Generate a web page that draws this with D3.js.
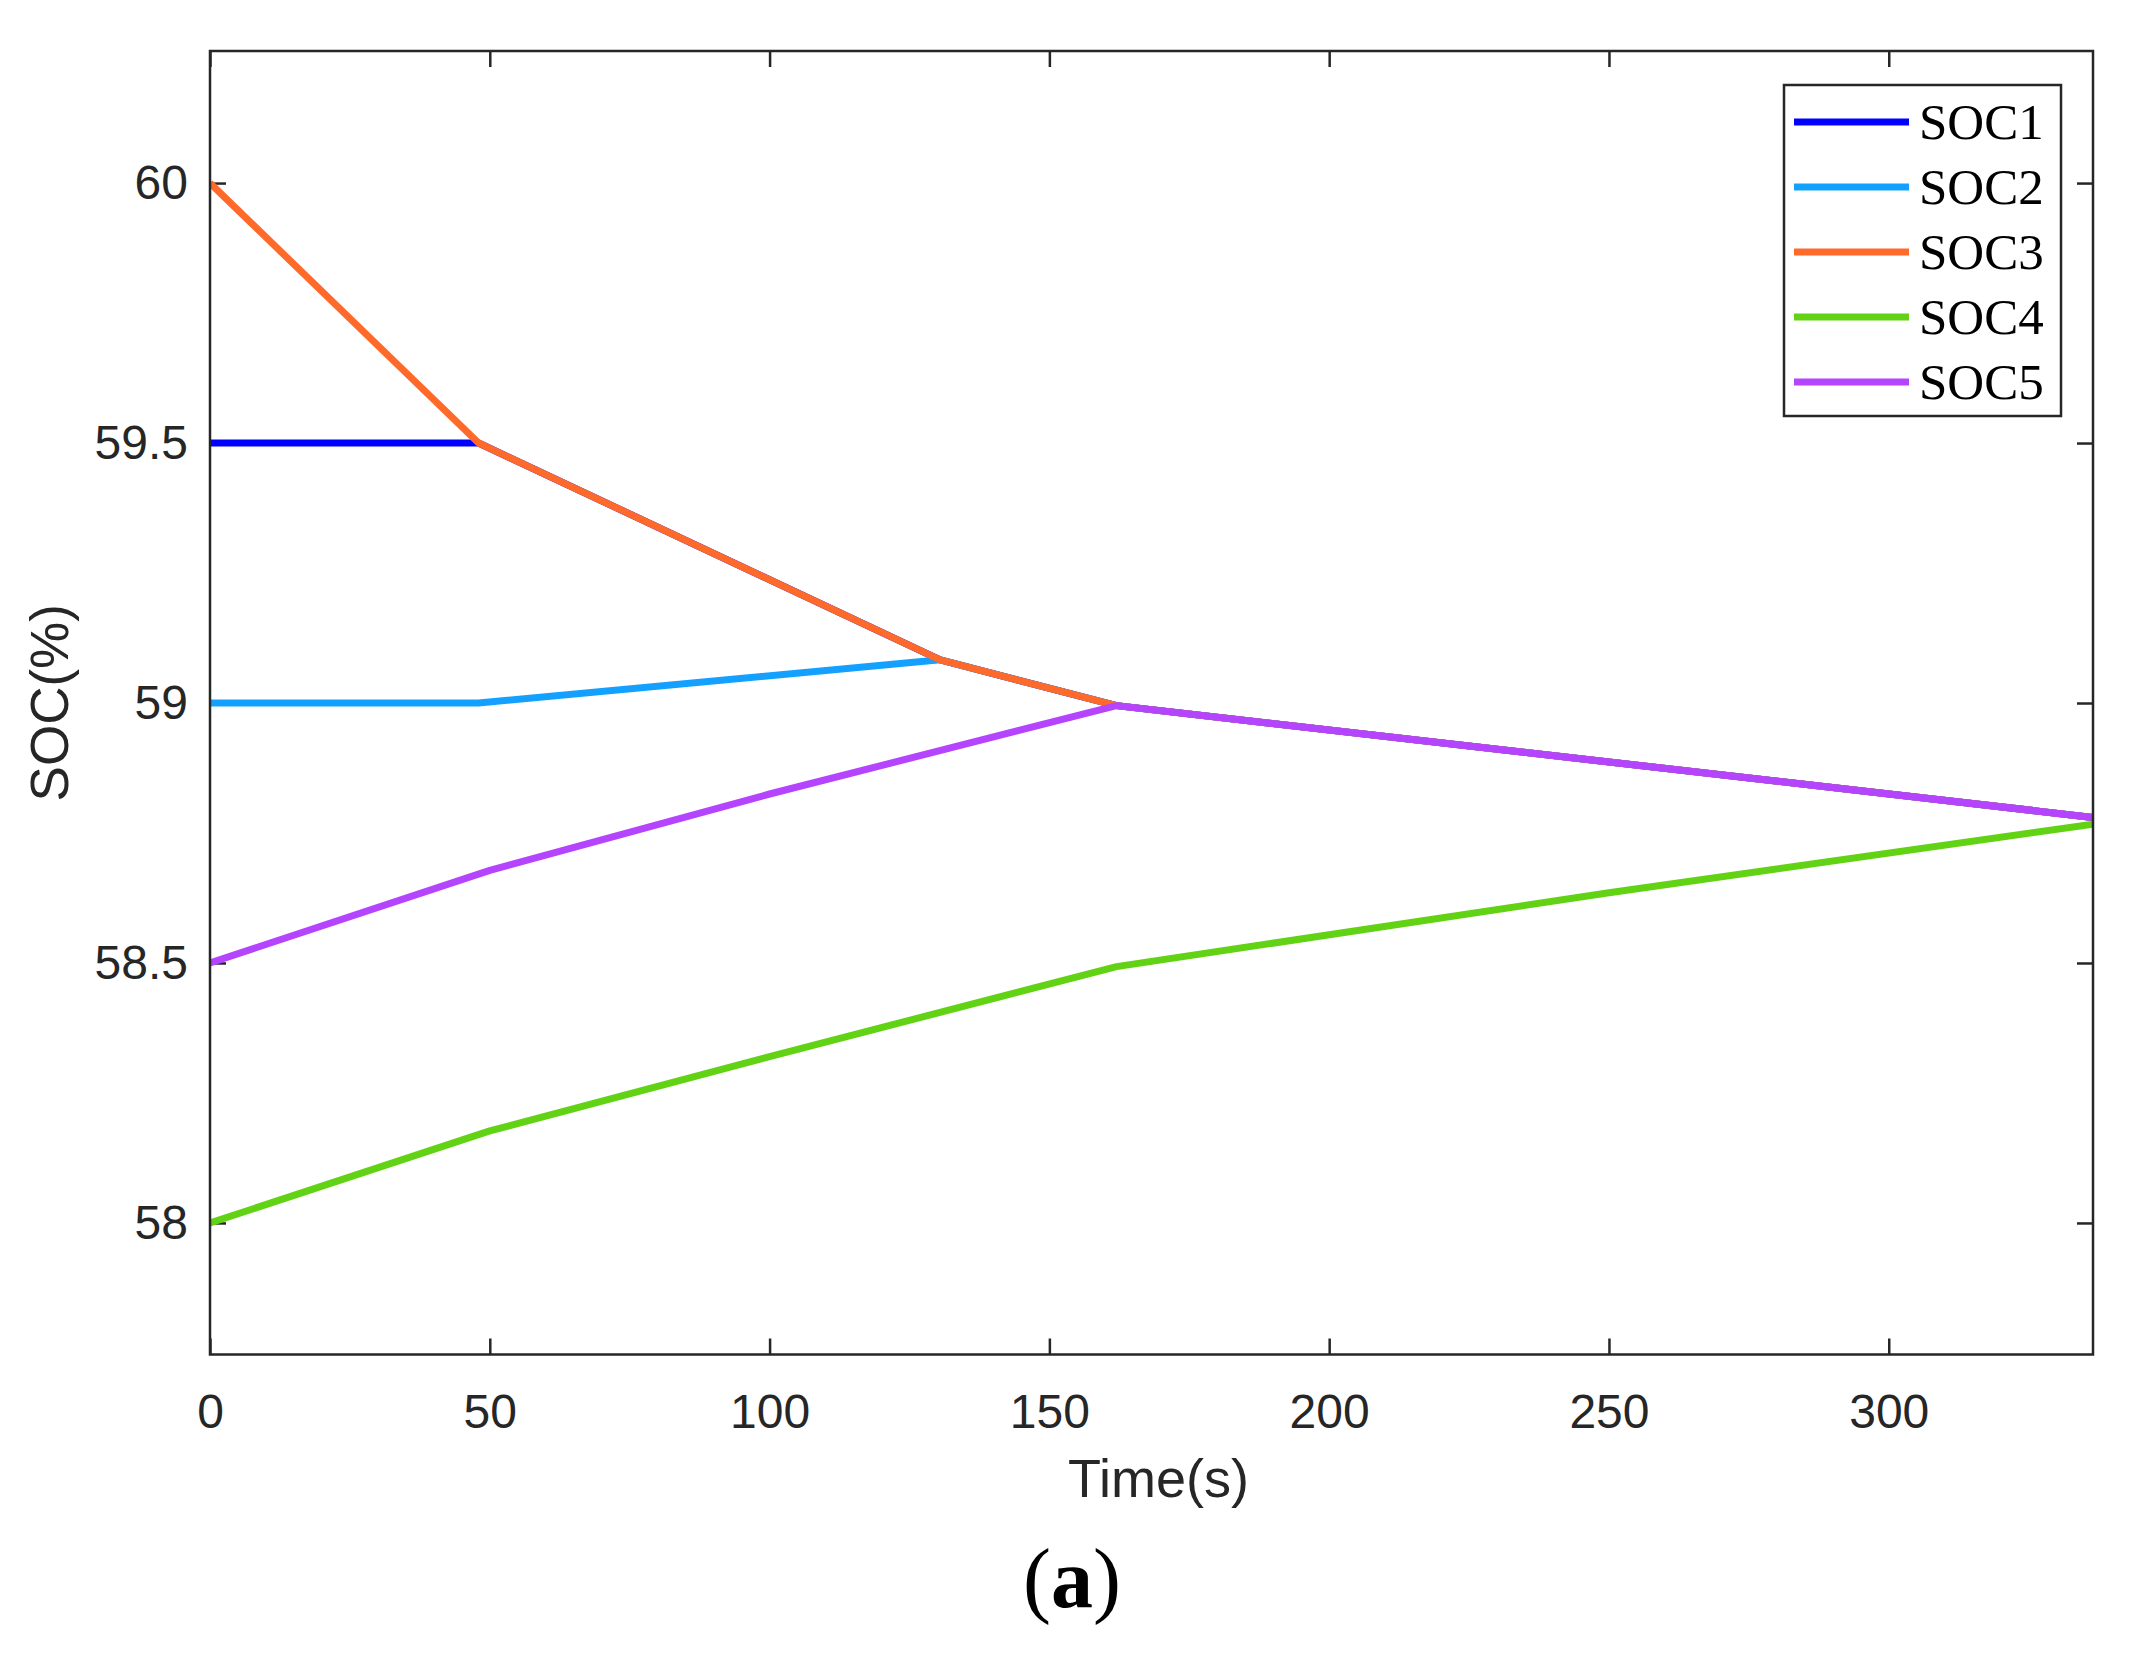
<!DOCTYPE html>
<html>
<head>
<meta charset="utf-8">
<script src="https://cdn.jsdelivr.net/npm/d3@7"></script>
<style>
  html, body { margin: 0; padding: 0; background: #ffffff; overflow: hidden; }
  svg { display: block; overflow: visible; }
</style>
</head>
<body>
<svg id="chart" width="2139" height="1659"></svg>
<script>
// data
const seriesNames = ["SOC1", "SOC2", "SOC3", "SOC4", "SOC5"];
const seriesColors = ["#0000ff", "#14a0ff", "#ff6a2a", "#62d214", "#b544ff"];

const soc1Time = [0, 48, 130.5, 162, 336.5];
const soc1Values = [59.5, 59.5, 59.083, 58.995, 58.78];

const soc2Time = [0, 48, 130.5, 162, 336.5];
const soc2Values = [59.0, 59.0, 59.083, 58.995, 58.78];

const soc3Time = [0, 48, 130.5, 162, 336.5];
const soc3Values = [60.0, 59.5, 59.083, 58.995, 58.78];

const soc4Time = [0, 50, 100, 162, 250, 336.5];
const soc4Values = [58.0, 58.177, 58.32, 58.493, 58.635, 58.767];

const soc5Time = [0, 50, 100, 162, 336.5];
const soc5Values = [58.5, 58.678, 58.825, 58.995, 58.78];

const xTicks = [0, 50, 100, 150, 200, 250, 300];
const yTicks = [58, 58.5, 59, 59.5, 60];
const xDomain = [0, 336.5];
const yDomain = [57.747, 60.254];

const seriesTimes = [soc1Time, soc2Time, soc3Time, soc4Time, soc5Time];
const seriesValues = [soc1Values, soc2Values, soc3Values, soc4Values, soc5Values];

const svg = d3.select("#chart");
const margin = { top: 51, right: 46, bottom: 304.5, left: 210 };
const width = 2139;
const height = 1659;
const innerWidth = width - margin.left - margin.right;
const innerHeight = height - margin.top - margin.bottom;

const x = d3.scaleLinear().domain(xDomain).range([0, innerWidth]);
const y = d3.scaleLinear().domain(yDomain).range([innerHeight, 0]);

const root = svg.append("g").attr("transform", `translate(${margin.left},${margin.top})`);

root.append("clipPath").attr("id", "plot-clip")
  .append("rect").attr("width", innerWidth).attr("height", innerHeight);

const styleAxis = (g) => {
  g.attr("font-size", 48).attr("font-family", "'Liberation Sans', Arial, sans-serif");
  g.select(".domain").remove();
  g.selectAll(".tick line").attr("stroke", "#262626").attr("stroke-width", 2.5);
  g.selectAll(".tick text").attr("fill", "#262626");
};

// axes, ticks pointing inward like MATLAB
root.append("g")
  .attr("transform", `translate(0,${innerHeight})`)
  .call(d3.axisBottom(x).tickValues(xTicks).tickSize(-16).tickPadding(39).tickFormat(d3.format("d")))
  .call(styleAxis);
root.append("g")
  .call(d3.axisTop(x).tickValues(xTicks).tickSize(-16))
  .call((g) => g.selectAll("text").remove())
  .call(styleAxis);
root.append("g")
  .call(d3.axisLeft(y).tickValues(yTicks).tickSize(-16).tickPadding(22).tickFormat((d) => d3.format("")(d)))
  .call(styleAxis);
root.append("g")
  .attr("transform", `translate(${innerWidth},0)`)
  .call(d3.axisRight(y).tickValues(yTicks).tickSize(-16))
  .call((g) => g.selectAll("text").remove())
  .call(styleAxis);

// lines
const line = d3.line().x((d) => x(d.t)).y((d) => y(d.v));
const seriesData = seriesNames.map((name, i) => ({
  name,
  color: seriesColors[i],
  points: seriesTimes[i].map((t, j) => ({ t, v: seriesValues[i][j] })),
}));

root.append("g")
  .attr("clip-path", "url(#plot-clip)")
  .selectAll("path")
  .data(seriesData)
  .join("path")
  .attr("fill", "none")
  .attr("stroke", (d) => d.color)
  .attr("stroke-width", 7)
  .attr("stroke-linejoin", "round")
  .attr("d", (d) => line(d.points));

// frame
root.append("rect")
  .attr("width", innerWidth)
  .attr("height", innerHeight)
  .attr("fill", "none")
  .attr("stroke", "#262626")
  .attr("stroke-width", 2.5);

// legend
const legend = svg.append("g").attr("transform", "translate(1784,85)");
legend.append("rect")
  .attr("width", 277)
  .attr("height", 331)
  .attr("fill", "#ffffff")
  .attr("stroke", "#262626")
  .attr("stroke-width", 2.5);

const legendItems = legend.selectAll("g.item")
  .data(seriesData)
  .join("g")
  .attr("class", "item")
  .attr("transform", (d, i) => `translate(0,${37 + i * 65})`);

legendItems.append("line")
  .attr("x1", 10)
  .attr("x2", 125)
  .attr("stroke", (d) => d.color)
  .attr("stroke-width", 7);

legendItems.append("text")
  .attr("x", 135)
  .attr("y", 17)
  .attr("font-family", "'Liberation Serif', 'Times New Roman', serif")
  .attr("font-size", "51px")
  .attr("fill", "#000000")
  .text((d) => d.name);

// axis titles
svg.append("text")
  .attr("x", margin.left + innerWidth / 2 + 7)
  .attr("y", 1497)
  .attr("text-anchor", "middle")
  .attr("font-family", "'Liberation Sans', Arial, sans-serif")
  .attr("font-size", "54px")
  .attr("fill", "#262626")
  .text("Time(s)");

svg.append("text")
  .attr("transform", `translate(68,${margin.top + innerHeight / 2}) rotate(-90)`)
  .attr("text-anchor", "middle")
  .attr("font-family", "'Liberation Sans', Arial, sans-serif")
  .attr("font-size", "53px")
  .attr("fill", "#262626")
  .text("SOC(%)");

// panel caption
const caption = svg.append("text")
  .attr("x", 1072)
  .attr("y", 1607)
  .attr("text-anchor", "middle")
  .attr("font-family", "'Liberation Serif', 'Times New Roman', serif")
  .attr("font-size", "84px")
  .attr("fill", "#000000");
caption.append("tspan").text("(");
caption.append("tspan").attr("font-weight", "bold").text("a");
caption.append("tspan").text(")");
</script>
</body>
</html>
